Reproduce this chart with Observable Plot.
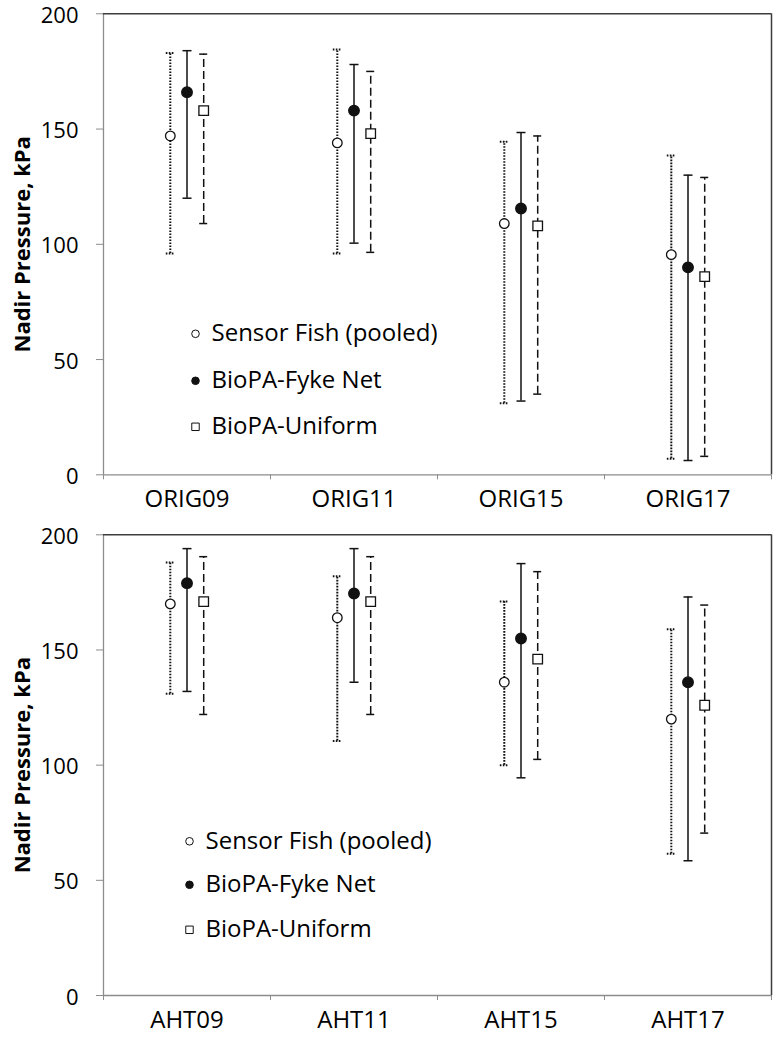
<!DOCTYPE html>
<html>
<head>
<meta charset="utf-8">
<script src="https://cdn.jsdelivr.net/npm/d3@7"></script>
<script src="https://cdn.jsdelivr.net/npm/@observablehq/plot@0.6"></script>
<style>
  html, body { margin: 0; padding: 0; background: #fff; }
  #chart { width: 775px; }
  #chart svg { display: block; }
</style>
</head>
<body>
<div id="chart"></div>
<script>
// ---------- data ----------
const seriesNames = ["Sensor Fish (pooled)", "BioPA-Fyke Net", "BioPA-Uniform"];
const yTicks = [0, 50, 100, 150, 200];
const yTitle = "Nadir Pressure, kPa";

const topCategories = ["ORIG09", "ORIG11", "ORIG15", "ORIG17"];
const topSensorMean = [147, 144, 109, 95.5];
const topSensorLow  = [96, 96, 31, 7];
const topSensorHigh = [183, 184.5, 144.5, 138.5];
const topFykeMean   = [166, 158, 115.5, 90];
const topFykeLow    = [120, 100.5, 32, 6.2];
const topFykeHigh   = [184, 178, 148.5, 130];
const topUniformMean = [158, 148, 108, 86];
const topUniformLow  = [109, 96.5, 35, 8];
const topUniformHigh = [182.5, 175, 147, 129];

const bottomCategories = ["AHT09", "AHT11", "AHT15", "AHT17"];
const botSensorMean = [170, 164, 136, 120];
const botSensorLow  = [131, 110.5, 100, 61.5];
const botSensorHigh = [188, 182, 171, 159];
const botFykeMean   = [179, 174.5, 155, 136];
const botFykeLow    = [132, 136, 94.5, 58.5];
const botFykeHigh   = [194, 194, 187.5, 173];
const botUniformMean = [171, 171, 146, 126];
const botUniformLow  = [122, 122, 102.5, 70.5];
const botUniformHigh = [190.5, 190.5, 184, 169.5];

// ---------- styling ----------
const FONT = "'Open Sans', 'DejaVu Sans', sans-serif";
const AXIS_GRAY = "#8c8c8c";
const BORDER = "#3c3c3c";
const INK = "#111";

const capSymbol = {
  draw(context) {
    context.moveTo(-4.5, 0);
    context.lineTo(4.5, 0);
  }
};

const seriesStyles = [
  {offset: -0.1, dash: "1.6,1.4", width: 2, symbol: "circle", fill: "white", r: 4.8},
  {offset: 0, dash: null, width: 1.5, symbol: "circle", fill: INK, r: 5.3},
  {offset: 0.1, dash: "8,4", width: 1.5, symbol: "square", fill: "white", r: 5.4}
];

function makeRows(cats, mean, low, high) {
  return cats.map((c, i) => ({i, c, mean: mean[i], low: low[i], high: high[i]}));
}

function panel(cats, seriesData, opts) {
  const marks = [
    Plot.ruleY([0], {stroke: AXIS_GRAY, strokeWidth: 1.3}),
    Plot.ruleX([-0.5], {stroke: AXIS_GRAY, strokeWidth: 1.3}),
    Plot.ruleY([200], {stroke: BORDER, strokeWidth: 1.5}),
    Plot.ruleX([3.5], {stroke: BORDER, strokeWidth: 1.5}),
    Plot.axisY({ticks: yTicks, tickSize: 7, stroke: AXIS_GRAY, tickFormat: () => "", label: null}),
    Plot.text(yTicks, {y: (d) => d, frameAnchor: "left", dx: -25, dy: 2, textAnchor: "end",
      lineAnchor: "middle", fontSize: 22, fill: "#000"}),
    Plot.axisX({ticks: [-0.5, 0.5, 1.5, 2.5, 3.5], tickSize: 5, stroke: AXIS_GRAY,
      tickFormat: () => "", label: null}),
    Plot.axisX({ticks: [0, 1, 2, 3], tickSize: 0, tickPadding: 15, fill: "#000",
      tickFormat: (i) => cats[i], label: null, fontSize: 24}),
    Plot.text([yTitle], {frameAnchor: "left", dx: -81, rotate: -90, fontWeight: "bold",
      fontSize: 22, textAnchor: "middle", lineAnchor: "middle", fill: "#000"})
  ];
  seriesData.forEach((rows, k) => {
    const s = seriesStyles[k];
    const xf = (d) => d.i + s.offset;
    marks.push(
      Plot.ruleX(rows, {x: xf, y1: "low", y2: "high", stroke: INK, strokeWidth: s.width,
        strokeDasharray: s.dash}),
      Plot.dot(rows, {x: xf, y: "low", symbol: capSymbol, r: 3, fill: "none", stroke: INK,
        strokeWidth: s.width, strokeDasharray: s.dash}),
      Plot.dot(rows, {x: xf, y: "high", symbol: capSymbol, r: 3, fill: "none", stroke: INK,
        strokeWidth: s.width, strokeDasharray: s.dash}),
      Plot.dot(rows, {x: xf, y: "mean", symbol: s.symbol, r: s.r, fill: s.fill, stroke: INK,
        strokeWidth: 1.3})
    );
    // legend entry
    marks.push(
      Plot.dot([seriesNames[k]], {frameAnchor: "top-left", dx: opts.legendX, dy: opts.legendY[k],
        symbol: s.symbol, r: s.symbol === "square" ? 4.2 : 3.8, fill: s.fill, stroke: INK, strokeWidth: 1}),
      Plot.text([seriesNames[k]], {frameAnchor: "top-left", dx: opts.legendX + 16, dy: opts.legendY[k],
        textAnchor: "start", lineAnchor: "middle", fontSize: 24, fill: "#000"})
    );
  });
  return Plot.plot({
    width: 775,
    height: 520,
    marginTop: opts.marginTop,
    marginBottom: opts.marginBottom,
    marginLeft: 103,
    marginRight: 4,
    x: {domain: [-0.5, 3.5], axis: null},
    y: {domain: [0, 200], axis: null},
    style: {fontFamily: FONT, background: "white", color: "#000", overflow: "visible"},
    marks
  });
}

const chart = document.getElementById("chart");
chart.append(panel(topCategories, [
  makeRows(topCategories, topSensorMean, topSensorLow, topSensorHigh),
  makeRows(topCategories, topFykeMean, topFykeLow, topFykeHigh),
  makeRows(topCategories, topUniformMean, topUniformLow, topUniformHigh)
], {marginTop: 13.3, marginBottom: 45.7, legendX: 92, legendY: [320, 367, 413]}));

chart.append(panel(bottomCategories, [
  makeRows(bottomCategories, botSensorMean, botSensorLow, botSensorHigh),
  makeRows(bottomCategories, botFykeMean, botFykeLow, botFykeHigh),
  makeRows(bottomCategories, botUniformMean, botUniformLow, botUniformHigh)
], {marginTop: 14.3, marginBottom: 45, legendX: 86, legendY: [306.5, 350, 395]}));
</script>
</body>
</html>
